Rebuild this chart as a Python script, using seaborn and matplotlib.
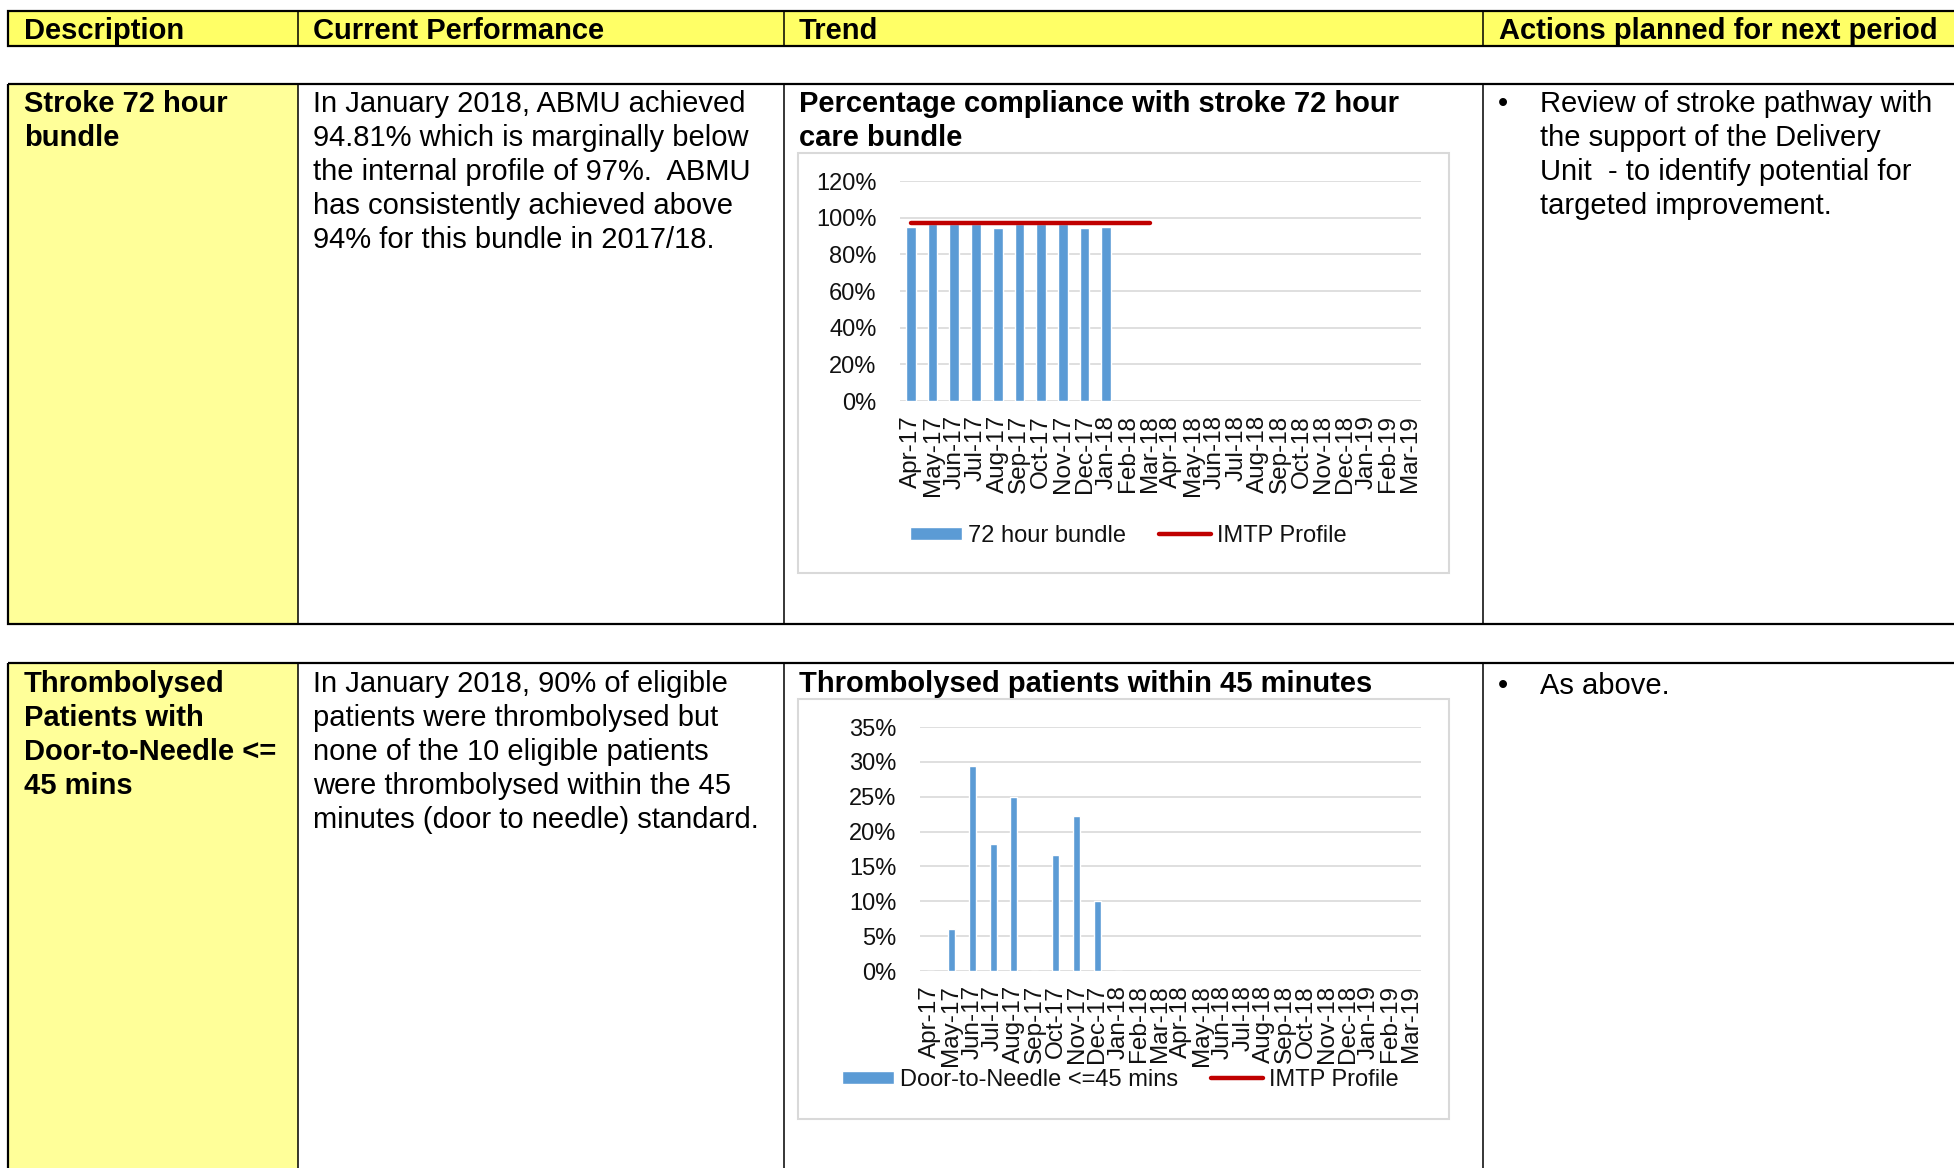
import numpy as np
import pandas as pd
import matplotlib.pyplot as plt
import seaborn as sns
from matplotlib.patches import Rectangle
from matplotlib.lines import Line2D
from matplotlib.ticker import PercentFormatter, MultipleLocator

# ---- data ----
months = ["Apr-17", "May-17", "Jun-17", "Jul-17", "Aug-17", "Sep-17",
          "Oct-17", "Nov-17", "Dec-17", "Jan-18", "Feb-18", "Mar-18",
          "Apr-18", "May-18", "Jun-18", "Jul-18", "Aug-18", "Sep-18",
          "Oct-18", "Nov-18", "Dec-18", "Jan-19", "Feb-19", "Mar-19"]

# % compliance, stroke 72 hour bundle (Apr-17 .. Jan-18)
bundle_72h = [94.7, 96.7, 96.7, 96.7, 94.6, 96.7, 96.7, 96.7, 94.5, 94.81]
# IMTP profile (Apr-17 .. Mar-18)
imtp_profile = [97, 97, 97, 97, 97, 97, 97, 97, 97, 97, 97, 97]
# % thrombolysed within 45 mins (Apr-17 .. Jan-18)
door_to_needle = [0, 6.0, 29.4, 18.2, 25.0, 0, 16.7, 22.2, 10.0, 0]

headers = ["Description", "Current Performance", "Trend",
           "Actions planned for next period"]
desc_1 = ["Stroke 72 hour", "bundle"]
perf_1 = ["In January 2018, ABMU achieved",
          "94.81% which is marginally below",
          "the internal profile of 97%.  ABMU",
          "has consistently achieved above",
          "94% for this bundle in 2017/18."]
title_1 = ["Percentage compliance with stroke 72 hour", "care bundle"]
action_1 = ["Review of stroke pathway with",
            "the support of the Delivery",
            "Unit  - to identify potential for",
            "targeted improvement."]
desc_2 = ["Thrombolysed", "Patients with", "Door-to-Needle <=", "45 mins"]
perf_2 = ["In January 2018, 90% of eligible",
          "patients were thrombolysed but",
          "none of the 10 eligible patients",
          "were thrombolysed within the 45",
          "minutes (door to needle) standard."]
title_2 = ["Thrombolysed patients within 45 minutes"]
action_2 = ["As above."]

BLUE = "#5b9bd5"
RED = "#c00000"
GRID = "#d9d9d9"
HEAD_YELLOW = "#ffff66"
CELL_YELLOW = "#ffff99"

sns.set_style("white")
plt.rcParams["font.family"] = ["Liberation Sans", "DejaVu Sans"]
plt.rcParams["text.color"] = "black"

W, H = 1954, 1168
fig = plt.figure(figsize=(W / 100, H / 100), dpi=100)

# background axes in pixel coordinates for the table
bg = fig.add_axes([0, 0, 1, 1], zorder=0)
bg.set_xlim(0, W)
bg.set_ylim(H, 0)
bg.axis("off")

col_x = [8, 298, 784, 1483, 1965]
lw_out = 1.6
lw_in = 1.1

# header row
bg.add_patch(Rectangle((col_x[0], 11), col_x[-1] - col_x[0], 35,
                       facecolor=HEAD_YELLOW, edgecolor="black", lw=lw_out))
for x in col_x[1:-1]:
    bg.plot([x, x], [11, 46], color="black", lw=lw_in)
for x, t in zip([24, 313, 799, 1499], headers):
    bg.text(x, 31, t, fontsize=21, fontweight="bold", va="center", ha="left",
            color="black")

# body rows
rows = [(84, 624), (663, 1200)]
for top, bot in rows:
    bg.add_patch(Rectangle((col_x[0], top), col_x[1] - col_x[0], bot - top,
                           facecolor=CELL_YELLOW, edgecolor="none"))
    bg.add_patch(Rectangle((col_x[0], top), col_x[-1] - col_x[0], bot - top,
                           facecolor="none", edgecolor="black", lw=lw_out))
    for x in col_x[1:-1]:
        bg.plot([x, x], [top, bot], color="black", lw=lw_in)

LINE = 33.8


def put_lines(x, y0, lines, bold=False):
    for i, line in enumerate(lines):
        bg.text(x, y0 + i * LINE, line, fontsize=21, va="center", ha="left",
                color="black", fontweight="bold" if bold else "normal")


put_lines(24, 104.5, desc_1, bold=True)
put_lines(313, 104.5, perf_1)
put_lines(799, 104.5, title_1, bold=True)
put_lines(1540, 104.5, action_1)
bg.text(1498, 104.5, "\u2022", fontsize=21, va="center", ha="left",
        color="black")

put_lines(24, 684.5, desc_2, bold=True)
put_lines(313, 684.5, perf_2)
put_lines(799, 684.5, title_2, bold=True)
put_lines(1540, 686, action_2)
bg.text(1498, 686, "\u2022", fontsize=21, va="center", ha="left",
        color="black")

# chart frames
for top, bot in [(153, 573), (699, 1119)]:
    bg.add_patch(Rectangle((798, top), 651, bot - top, facecolor="white",
                           edgecolor=GRID, lw=1.5))


def fig_rect(x0, y0, x1, y1):
    return [x0 / W, 1 - y1 / H, (x1 - x0) / W, (y1 - y0) / H]


def style_axis(ax, ymax, step):
    ax.set_facecolor("none")
    ax.set_xlim(-0.5, len(months) - 0.5)
    ax.set_ylim(0, ymax)
    ax.yaxis.set_major_locator(MultipleLocator(step))
    ax.yaxis.set_major_formatter(PercentFormatter(xmax=100, decimals=0))
    ax.grid(axis="y", color=GRID, lw=1.2)
    ax.set_axisbelow(True)
    sns.despine(ax=ax, left=True, bottom=True)
    ax.set_xlabel("")
    ax.set_ylabel("")
    ax.set_xticks(range(len(months)))
    ax.set_xticklabels(months, rotation=90, fontsize=17.5, color="#111111")
    ax.tick_params(axis="x", length=0, pad=10)
    ax.tick_params(axis="y", length=0, pad=17, labelsize=17,
                   labelcolor="#111111")


# ---- chart 1: 72 hour bundle ----
ax1 = fig.add_axes(fig_rect(900, 181, 1421, 401), zorder=2)
df1 = pd.DataFrame({"month": months[:len(bundle_72h)], "value": bundle_72h})
sns.barplot(data=df1, x="month", y="value", order=months, color=BLUE,
            saturation=1, width=0.45, label="72 hour bundle", ax=ax1)
sns.lineplot(x=np.arange(len(imtp_profile)), y=imtp_profile, color=RED,
             lw=3.2, label="IMTP Profile", ax=ax1)
style_axis(ax1, 120, 20)
h1, l1 = ax1.get_legend_handles_labels()
order = [l1.index("72 hour bundle"), l1.index("IMTP Profile")]
ax1.legend([h1[i] for i in order], [l1[i] for i in order], loc="center",
           ncol=2, frameon=False, fontsize=17, labelcolor="#111111",
           bbox_to_anchor=(1128 / W, 1 - 536 / H),
           bbox_transform=fig.transFigure, handlelength=2.2,
           handleheight=0.5, handletextpad=0.25, columnspacing=1.4)

# ---- chart 2: door to needle ----
ax2 = fig.add_axes(fig_rect(920, 727, 1421, 971), zorder=2)
df2 = pd.DataFrame({"month": months[:len(door_to_needle)],
                    "value": door_to_needle})
sns.barplot(data=df2, x="month", y="value", order=months, color=BLUE,
            saturation=1, width=0.33, label="Door-to-Needle <=45 mins", ax=ax2)
style_axis(ax2, 35, 5)
h2, l2 = ax2.get_legend_handles_labels()
h2 = h2[:1] + [Line2D([], [], color=RED, lw=3.2)]
l2 = l2[:1] + ["IMTP Profile"]
ax2.legend(h2, l2, loc="center", ncol=2, frameon=False, fontsize=17,
           labelcolor="#111111",
           bbox_to_anchor=(1120 / W, 1 - 1080 / H),
           bbox_transform=fig.transFigure, handlelength=2.2,
           handleheight=0.5, handletextpad=0.25, columnspacing=1.4)

fig.savefig("out.png", dpi=100)
